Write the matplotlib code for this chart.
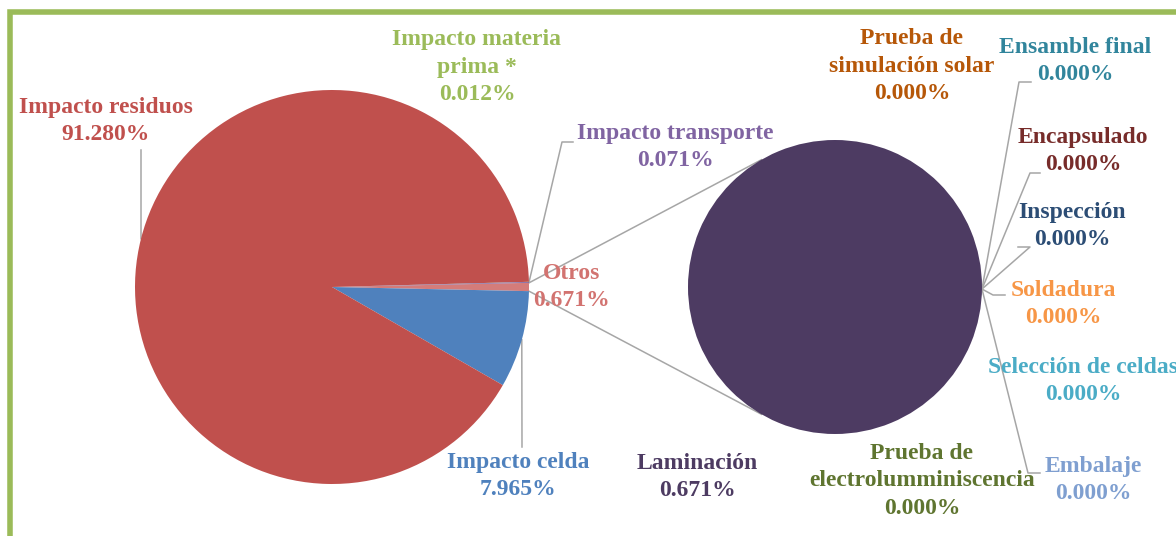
import numpy as np
import matplotlib.pyplot as plt
from matplotlib.patches import Rectangle

H = 536  # alto del lienzo en px (y se mide desde arriba en el layout)

# gráfico principal
main_labels = ['Otros', 'Impacto celda', 'Impacto residuos',
               'Impacto materia\nprima *', 'Impacto transporte']
main_values = [0.671, 7.965, 91.280, 0.012, 0.071]
main_colors = ['#D47C7A', '#4F81BD', '#C0504D', '#9BBB59', '#8064A2']
main_text = ['#D27370', '#4F81BD', '#C0504D', '#9BBB59', '#8064A2']

# desglose de "Otros"
sub_labels = ['Ensamble final', 'Encapsulado', 'Inspección', 'Soldadura',
              'Selección de celdas', 'Embalaje',
              'Prueba de\nelectrolumminiscencia', 'Prueba de\nsimulación solar',
              'Laminación']
sub_values = [0.000, 0.000, 0.000, 0.000, 0.000, 0.000, 0.000, 0.000, 0.671]
sub_colors = ['#31859C', '#772C2A', '#2C4D75', '#F79646', '#4BACC6',
              '#7F9FD0', '#5F7530', '#B65708', '#4D3B62']

# posiciones de etiquetas (centro del texto, px) y codos de las guías
main_pos = [(572, 287), (518, 476), (106, 121), (477, 67), (675, 147)]
main_leader = [None, [(522, 447)], [(141, 150)], None, [(562, 142), (573, 142)]]
sub_pos = [(1075, 61), (1083, 151), (1072, 226), (1063, 304), (1083, 381),
           (1093, 480), (922, 481), (912, 66), (697, 477)]
sub_leader = [[(1019, 82), (1031, 82)], [(1030, 173), (1040, 173)],
              [(1030, 247), (1018, 247)], [(993, 295), (1005, 295)], None,
              [(1028, 473), (1040, 473)], None, None, None]

fig = plt.figure(figsize=(11.76, 5.36), dpi=100)
ax = fig.add_axes([0, 0, 1, 1])

c1, r1 = (332, H - 287), 197
c2, r2 = (835, H - 287), 147

w1, _ = ax.pie(main_values, colors=main_colors, center=c1, radius=r1,
               startangle=main_values[0] * 3.6 / 2, counterclock=False,
               wedgeprops=dict(linewidth=0))
w2, _ = ax.pie(sub_values, colors=sub_colors, center=c2, radius=r2,
               startangle=-0.8, counterclock=False,
               wedgeprops=dict(linewidth=0))
for w, v in zip(w2, sub_values):
    if v == 0:
        w.set_edgecolor('#8A93B8')
        w.set_linewidth(0.8)


def edge_point(w, ang=None):
    if ang is None:
        ang = (w.theta1 + w.theta2) / 2
    a = np.deg2rad(ang)
    return w.center[0] + w.r * np.cos(a), w.center[1] + w.r * np.sin(a)


# lineas de union entre "Otros" y el segundo circulo
otros = w1[0]
for a_src, a_dst in [(otros.theta2, 120), (otros.theta1, -120)]:
    x0, y0 = edge_point(otros, a_src)
    x1, y1 = c2[0] + r2 * np.cos(np.deg2rad(a_dst)), c2[1] + r2 * np.sin(np.deg2rad(a_dst))
    ax.plot([x0, x1], [y0, y1], color='#A6A6A6', lw=1.1, zorder=0.5)

font = dict(family='Liberation Serif', fontweight='bold', fontsize=17,
            ha='center', va='center', linespacing=1.42)


def draw_labels(wedges, labels, values, colors, pos, leaders):
    for w, lab, v, col, p, ld in zip(wedges, labels, values, colors, pos, leaders):
        ax.text(p[0], H - p[1], f'{lab}\n{v:.3f}%', color=col, **font)
        if ld:
            pts = [edge_point(w)] + [(x, H - y) for x, y in ld]
            xs, ys = zip(*pts)
            ax.plot(xs, ys, color='#A6A6A6', lw=1.1, zorder=0.5)


draw_labels(w1, main_labels, main_values, main_text, main_pos, main_leader)
draw_labels(w2, sub_labels, sub_values, sub_colors, sub_pos, sub_leader)

# marco verde
ax.add_patch(Rectangle((10, -20), 1300, H - 12 + 20, fill=False,
                       edgecolor='#9BBB59', lw=4, clip_on=False))

ax.set_xlim(0, 1176)
ax.set_ylim(0, H)
ax.set_aspect('auto')
ax.axis('off')

fig.savefig('out.png', dpi=100)
